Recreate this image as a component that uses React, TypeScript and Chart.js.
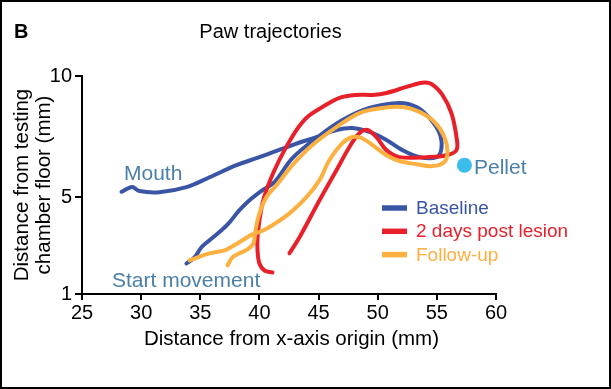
import React, { useEffect, useRef } from 'react';
import { Chart, registerables } from 'chart.js';

Chart.register(...registerables);

const FONT = '"Liberation Sans", Arial, Helvetica, sans-serif';

const panelLabel = 'B';
const chartTitle = 'Paw trajectories';
const xTitle = 'Distance from x-axis origin (mm)';
const yTitleLines = ['Distance from testing', 'chamber floor (mm)'];

const seriesNames = ['Baseline', '2 days post lesion', 'Follow-up'];
const seriesColors = ['#3a55a5', '#e8202a', '#fbb040'];
const annotationColor = '#4a7fa8';
const pelletColor = '#3bbdec';

const xTicks = [25, 30, 35, 40, 45, 50, 55, 60];
const yTicks = [1, 5, 10];

// Baseline trajectory (start movement -> pellet loop -> mouth)
const baselineX = [33.83, 34.51, 35.10, 35.78, 36.79, 37.47, 38.31, 39.16, 40.26, 41.27, 42.79, 44.82, 47.02, 49.30, 51.84, 53.28, 54.37, 55.22, 55.39, 54.97, 53.53, 52.09, 50.74, 49.30, 47.87, 46.51, 44.82, 42.79, 40.00, 38.06, 35.78, 33.83, 31.55, 29.86, 29.27, 28.85, 28.34];
const baselineY = [2.26, 2.51, 2.93, 3.22, 3.63, 3.96, 4.46, 4.87, 5.29, 5.62, 6.61, 7.44, 8.18, 8.68, 8.89, 8.72, 8.27, 7.65, 7.02, 6.65, 6.65, 6.94, 7.36, 7.69, 7.85, 7.77, 7.48, 7.15, 6.65, 6.32, 5.82, 5.41, 5.20, 5.25, 5.42, 5.35, 5.22];

// 2 days post lesion
const lesionX = [41.10, 40.43, 40.00, 39.84, 39.84, 40.00, 40.26, 40.68, 41.27, 42.12, 43.13, 44.06, 45.33, 46.77, 48.20, 49.56, 50.74, 52.43, 53.78, 54.54, 55.47, 56.23, 56.66, 56.66, 55.81, 54.12, 51.84, 50.74, 49.89, 49.13, 48.46, 47.61, 46.51, 45.08, 43.39, 42.54];
const lesionY = [1.89, 1.97, 2.26, 2.80, 3.34, 4.04, 4.75, 5.41, 6.11, 6.94, 7.77, 8.31, 8.72, 9.10, 9.22, 9.22, 9.30, 9.55, 9.72, 9.67, 9.22, 8.47, 7.48, 6.94, 6.73, 6.65, 6.65, 6.94, 7.48, 7.77, 7.65, 7.07, 6.11, 4.87, 3.34, 2.68];

// Follow-up
const followX = [34.09, 35.78, 37.05, 37.72, 38.57, 39.41, 40.17, 41.10, 42.54, 43.98, 45.08, 45.92, 47.02, 47.87, 48.63, 49.56, 50.74, 51.84, 53.28, 54.63, 55.64, 55.90, 55.64, 54.80, 53.53, 52.09, 50.40, 48.46, 46.51, 44.48, 42.79, 41.44, 40.59, 40.00, 39.67, 39.49, 38.99, 38.31, 37.72, 37.30];
const followY = [2.39, 2.68, 2.80, 2.97, 3.22, 3.46, 3.59, 3.84, 4.33, 5.00, 5.70, 6.53, 7.23, 7.48, 7.44, 7.15, 6.73, 6.49, 6.36, 6.28, 6.45, 6.86, 7.48, 8.10, 8.52, 8.72, 8.68, 8.47, 7.89, 7.15, 6.32, 5.49, 5.00, 4.33, 3.63, 3.09, 2.84, 2.68, 2.51, 2.18];

const pelletX = [57.33];
const pelletY = [6.32];

const annotationLabels = ['Mouth', 'Start movement', 'Pellet'];

const zip = (xs: number[], ys: number[]) => xs.map((x, i) => ({ x, y: ys[i] }));

const textPlugin = {
  id: 'figureTexts',
  afterDraw(chart: any) {
    const ctx: CanvasRenderingContext2D = chart.ctx;
    ctx.save();
    ctx.strokeStyle = '#000';
    ctx.lineWidth = 2;
    ctx.strokeRect(1, 1, chart.width - 2, chart.height - 2);

    ctx.fillStyle = '#000';
    ctx.textBaseline = 'alphabetic';
    ctx.textAlign = 'left';
    ctx.font = `bold 20px ${FONT}`;
    ctx.fillText(panelLabel, 14, 38);

    ctx.font = `20px ${FONT}`;
    ctx.textAlign = 'center';
    ctx.fillText(chartTitle, 270.5, 38);

    ctx.font = `20.5px ${FONT}`;
    ctx.fillText(xTitle, 291.5, 345);

    ctx.save();
    ctx.translate(0, 185);
    ctx.rotate(-Math.PI / 2);
    ctx.fillText(yTitleLines[0], 0, 28);
    ctx.fillText(yTitleLines[1], 0, 50);
    ctx.restore();

    // annotations
    ctx.textAlign = 'left';
    ctx.font = `21px ${FONT}`;
    ctx.fillStyle = annotationColor;
    ctx.fillText(annotationLabels[0], 124, 180);
    ctx.fillText(annotationLabels[1], 112, 287);
    ctx.fillText(annotationLabels[2], 474, 174);

    // legend
    ctx.font = `19px ${FONT}`;
    for (let i = 0; i < seriesNames.length; i++) {
      const y = 208 + i * 23.3;
      ctx.strokeStyle = seriesColors[i];
      ctx.lineWidth = 5.5;
      ctx.lineCap = 'butt';
      ctx.beginPath();
      ctx.moveTo(382, y);
      ctx.lineTo(407, y);
      ctx.stroke();
      ctx.fillStyle = seriesColors[i];
      ctx.fillText(seriesNames[i], 416, y + 6);
    }
    ctx.restore();
  },
};

export default function App() {
  const ref = useRef<HTMLCanvasElement>(null);

  useEffect(() => {
    if (!ref.current) return;
    Chart.defaults.font.family = FONT;
    const lineDs = (label: string, xs: number[], ys: number[], color: string) => ({
      label,
      data: zip(xs, ys),
      showLine: true,
      borderColor: color,
      backgroundColor: color,
      borderWidth: 4,
      pointRadius: 0,
      pointHoverRadius: 0,
      tension: 0.35,
      borderCapStyle: 'round',
      borderJoinStyle: 'round',
      fill: false,
    });
    const chart = new Chart(ref.current, {
      type: 'scatter',
      data: {
        datasets: [
          {
            label: 'Pellet',
            data: zip(pelletX, pelletY),
            pointRadius: 7.5,
            pointBackgroundColor: pelletColor,
            pointBorderWidth: 0,
            borderColor: pelletColor,
            backgroundColor: pelletColor,
            showLine: false,
          } as any,
          lineDs(seriesNames[2], followX, followY, seriesColors[2]),
          lineDs(seriesNames[1], lesionX, lesionY, seriesColors[1]),
          lineDs(seriesNames[0], baselineX, baselineY, seriesColors[0]),
        ],
      },
      options: {
        responsive: false,
        animation: false,
        events: [],
        layout: { padding: { left: 0, right: 115, top: 76, bottom: 0 } },
        plugins: {
          legend: { display: false },
          tooltip: { enabled: false },
          title: { display: false },
        },
        scales: {
          x: {
            type: 'linear',
            min: 25,
            max: 60,
            afterFit: (s: any) => {
              s.height = 95;
            },
            afterBuildTicks: (s: any) => {
              s.ticks = xTicks.map((v) => ({ value: v }));
            },
            ticks: {
              color: '#000',
              font: { size: 20, family: FONT },
              padding: 1,
              maxRotation: 0,
              autoSkip: false,
            },
            grid: {
              drawOnChartArea: false,
              drawTicks: true,
              tickLength: 6,
              color: '#000',
              lineWidth: 2,
            },
            border: { display: true, color: '#000', width: 2 },
          },
          y: {
            type: 'linear',
            min: 1,
            max: 10,
            afterFit: (s: any) => {
              s.width = 82;
            },
            afterBuildTicks: (s: any) => {
              s.ticks = yTicks.map((v) => ({ value: v }));
            },
            ticks: {
              color: '#000',
              font: { size: 20, family: FONT },
              padding: 3,
              autoSkip: false,
            },
            grid: {
              drawOnChartArea: false,
              drawTicks: true,
              tickLength: 7,
              color: '#000',
              lineWidth: 2,
            },
            border: { display: true, color: '#000', width: 2 },
          },
        },
      } as any,
      plugins: [textPlugin],
    });
    return () => chart.destroy();
  }, []);

  return (
    <div style={{ position: 'fixed', left: 0, top: 0, width: 611, height: 389, background: '#fff' }}>
      <canvas ref={ref} width={611} height={389} style={{ display: 'block' }} />
    </div>
  );
}
